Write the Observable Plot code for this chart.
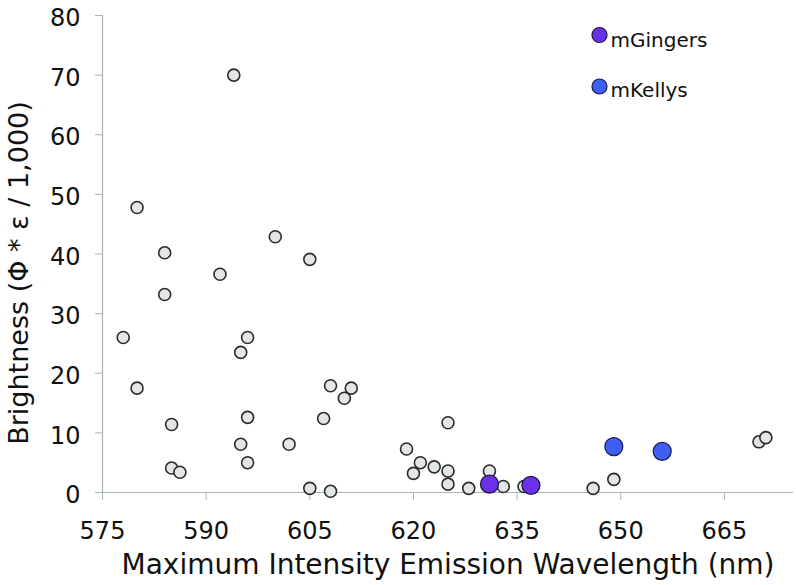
<!DOCTYPE html>
<html>
<head>
<meta charset="utf-8">
<script src="https://cdn.jsdelivr.net/npm/d3@7"></script>
<script src="https://cdn.jsdelivr.net/npm/@observablehq/plot@0.6"></script>
<style>
  html, body { margin: 0; padding: 0; background: #fff; }
  #chart svg { display: block; }
</style>
</head>
<body>
<div id="chart"></div>
<script>
// Other red fluorescent proteins (gray)
const otherWavelength = [594, 580, 584, 584, 592, 600, 605, 578, 580, 585, 585, 586.2, 596, 595, 596, 595, 596, 602, 605, 608, 607, 608, 610, 611, 625, 619, 621, 620, 623, 625, 625, 628, 631, 633, 636, 646, 649, 670, 671];
const otherBrightness = [70, 47.8, 40.2, 33.2, 36.6, 42.9, 39.1, 26.0, 17.5, 11.4, 4.1, 3.4, 26.0, 23.5, 12.6, 8.1, 5.0, 8.1, 0.7, 0.2, 12.4, 17.9, 15.8, 17.5, 11.7, 7.3, 5.0, 3.2, 4.3, 3.6, 1.4, 0.7, 3.6, 1.0, 1.0, 0.7, 2.2, 8.5, 9.2];
// mGingers
const gingerWavelength = [631, 637];
const gingerBrightness = [1.4, 1.2];
// mKellys
const kellyWavelength = [649, 656];
const kellyBrightness = [7.7, 6.9];

const xTicks = [575, 590, 605, 620, 635, 650, 665];
const yTicks = [0, 10, 20, 30, 40, 50, 60, 70, 80];
const legendLabels = ["mGingers", "mKellys"];
const legendColors = ["#6a30ea", "#3f5ff4"];

const others = otherWavelength.map((w, i) => ({w, b: otherBrightness[i]}));
const gingers = gingerWavelength.map((w, i) => ({w, b: gingerBrightness[i]}));
const kellys = kellyWavelength.map((w, i) => ({w, b: kellyBrightness[i]}));

const axisColor = "#a9b4b4";
const font = "'DejaVu Sans', sans-serif";

const legendMarks = legendLabels.flatMap((label, i) => [
  Plot.dot([label], {frameAnchor: "top-left", dx: 497, dy: 19.5 + i * 51.5, r: 7.5, fill: legendColors[i], stroke: "#1d1a40", strokeWidth: 1.2}),
  Plot.text([label], {frameAnchor: "top-left", dx: 508, dy: 25.5 + i * 50, text: d => d, fontSize: 20, fill: "#111", textAnchor: "start", lineAnchor: "middle", fontFamily: font})
]);

const chart = Plot.plot({
  width: 796,
  height: 585,
  marginLeft: 102,
  marginTop: 15,
  marginBottom: 93,
  marginRight: 3,
  style: {fontFamily: font, background: "#fff", overflow: "visible"},
  x: {domain: [575, 675], ticks: xTicks},
  y: {domain: [0, 80], ticks: yTicks},
  marks: [
    Plot.axisX({ticks: xTicks, tickSize: 8, tickPadding: 21, stroke: axisColor, fontSize: 24, color: "#111", label: null}),
    // y tick lines
    Plot.axisY({ticks: yTicks, tickSize: 7, stroke: axisColor, tickFormat: () => "", label: null}),
    // y tick labels (sit slightly below their tick in the reference)
    Plot.axisY({ticks: yTicks, tickSize: 0, tickPadding: 22, fontSize: 24, color: "#111", label: null, dy: 3}),
    Plot.ruleY([0], {stroke: axisColor, strokeWidth: 1.2}),
    Plot.ruleX([575], {stroke: axisColor, strokeWidth: 1.2}),
    Plot.dot(others, {x: "w", y: "b", r: 6, fill: "#e3e6e6", stroke: "#2b2b2b", strokeWidth: 1.6}),
    Plot.dot(gingers, {x: "w", y: "b", r: 9, fill: legendColors[0], stroke: "#1d1a40", strokeWidth: 1.2}),
    Plot.dot(kellys, {x: "w", y: "b", r: 9, fill: legendColors[1], stroke: "#1a2050", strokeWidth: 1.2}),
    ...legendMarks,
    // axis titles
    Plot.text(["Maximum Intensity Emission Wavelength (nm)"], {frameAnchor: "bottom", lineAnchor: "middle", dy: 73, text: d => d, fontSize: 28, fill: "#111", fontFamily: font}),
    Plot.text(["Brightness (Φ * ε / 1,000)"], {frameAnchor: "left", lineAnchor: "middle", dx: -83, dy: 19, rotate: -90, textAnchor: "middle", text: d => d, fontSize: 27, fill: "#111", fontFamily: font})
  ]
});
document.getElementById("chart").appendChild(chart);
</script>
</body>
</html>
